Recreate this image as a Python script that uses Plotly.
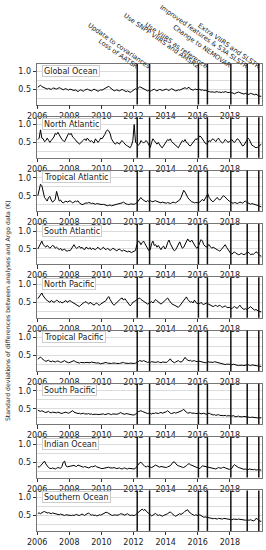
import plotly.graph_objects as go

# ---------------- data ----------------
years = list(range(2006, 2020))
regions = ["Global Ocean", "North Atlantic", "Tropical Atlantic", "South Atlantic",
           "North Pacific", "Tropical Pacific", "South Pacific", "Indian Ocean",
           "Southern Ocean"]

global_ocean = [
    0.55,0.58,0.61,0.57,0.55,0.53,0.51,0.50,0.52,0.50,0.49,0.52,
    0.53,0.51,0.50,0.52,0.54,0.52,0.50,0.48,0.50,0.51,0.49,0.47,
    0.50,0.49,0.47,0.46,0.48,0.45,0.43,0.46,0.48,0.46,0.44,0.47,
    0.49,0.50,0.48,0.46,0.45,0.47,0.50,0.48,0.45,0.44,0.46,0.48,
    0.47,0.49,0.51,0.53,0.55,0.58,0.54,0.50,0.47,0.45,0.46,0.48,
    0.46,0.45,0.47,0.49,0.47,0.45,0.43,0.45,0.44,0.41,0.43,0.46,
    0.48,0.51,0.49,0.54,0.56,0.55,0.53,0.50,0.48,0.47,0.45,0.46,
    0.44,0.46,0.48,0.50,0.47,0.45,0.47,0.49,0.48,0.46,0.47,0.49,
    0.50,0.48,0.46,0.49,0.51,0.49,0.47,0.45,0.46,0.48,0.47,0.49,
    0.50,0.52,0.54,0.51,0.53,0.55,0.50,0.48,0.47,0.49,0.50,0.48,
    0.50,0.49,0.47,0.48,0.46,0.47,0.45,0.44,0.43,0.42,0.43,0.42,
    0.41,0.42,0.43,0.41,0.42,0.40,0.42,0.41,0.43,0.42,0.40,0.41,
    0.39,0.40,0.38,0.37,0.39,0.40,0.42,0.40,0.38,0.37,0.36,0.38,
    0.36,0.35,0.36,0.38,0.37,0.35,0.34,0.36,0.33,0.31,0.30,0.30]

north_atlantic = [
    0.58,0.62,0.85,0.62,0.60,0.52,0.55,0.62,0.56,0.50,0.55,0.60,
    0.65,0.75,0.72,0.78,0.70,0.62,0.58,0.55,0.52,0.60,0.68,0.75,
    0.72,0.75,0.65,0.62,0.58,0.52,0.50,0.45,0.48,0.52,0.56,0.60,
    0.55,0.62,0.58,0.52,0.55,0.50,0.48,0.60,0.55,0.50,0.55,0.62,
    0.60,0.65,0.72,0.80,0.85,0.82,0.75,0.60,0.52,0.48,0.45,0.50,
    0.48,0.45,0.52,0.55,0.50,0.45,0.42,0.40,0.38,0.35,0.42,0.55,
    1.00,0.50,0.48,0.42,0.45,0.55,0.52,0.48,0.52,0.55,0.50,0.42,
    0.36,0.50,0.60,0.55,0.48,0.45,0.50,0.42,0.38,0.35,0.40,0.48,
    0.52,0.58,0.55,0.60,0.52,0.48,0.45,0.40,0.38,0.35,0.42,0.50,
    0.55,0.52,0.58,0.50,0.48,0.42,0.40,0.45,0.50,0.55,0.60,0.58,
    0.62,0.68,0.65,0.58,0.52,0.48,0.45,0.50,0.55,0.52,0.58,0.60,
    0.55,0.52,0.58,0.62,0.55,0.50,0.48,0.52,0.58,0.55,0.50,0.52,
    0.55,0.58,0.52,0.50,0.55,0.60,0.58,0.52,0.45,0.40,0.42,0.50,
    0.55,0.62,0.58,0.48,0.42,0.40,0.38,0.35,0.36,0.40,0.42,0.45]

tropical_atlantic = [
    0.50,0.70,0.82,0.78,0.60,0.45,0.40,0.35,0.45,0.48,0.38,0.32,
    0.35,0.40,0.62,0.45,0.35,0.38,0.32,0.30,0.33,0.35,0.32,0.34,
    0.36,0.33,0.30,0.32,0.35,0.33,0.36,0.30,0.27,0.25,0.26,0.28,
    0.30,0.29,0.31,0.30,0.28,0.29,0.27,0.26,0.28,0.27,0.25,0.24,
    0.25,0.26,0.24,0.23,0.22,0.23,0.24,0.22,0.23,0.24,0.25,0.24,
    0.25,0.26,0.28,0.30,0.32,0.28,0.27,0.26,0.25,0.27,0.26,0.25,
    0.26,0.28,0.30,0.35,0.42,0.45,0.40,0.36,0.35,0.33,0.36,0.34,
    0.36,0.34,0.33,0.35,0.36,0.34,0.33,0.31,0.30,0.32,0.31,0.30,
    0.29,0.31,0.30,0.28,0.30,0.32,0.31,0.30,0.33,0.35,0.38,0.45,
    0.55,0.65,0.60,0.50,0.45,0.40,0.35,0.33,0.32,0.30,0.31,0.30,
    0.30,0.32,0.38,0.40,0.35,0.42,0.48,0.55,0.45,0.38,0.35,0.33,
    0.38,0.42,0.45,0.40,0.38,0.42,0.48,0.50,0.45,0.40,0.38,0.35,
    0.32,0.30,0.29,0.31,0.30,0.28,0.30,0.32,0.31,0.29,0.33,0.35,
    0.32,0.30,0.28,0.26,0.28,0.27,0.25,0.26,0.24,0.22,0.20,0.19]

south_atlantic = [
    0.50,0.58,0.68,0.72,0.62,0.58,0.55,0.60,0.55,0.52,0.56,0.60,
    0.58,0.52,0.55,0.50,0.48,0.52,0.46,0.48,0.50,0.45,0.44,0.46,
    0.45,0.50,0.58,0.62,0.55,0.52,0.54,0.58,0.52,0.55,0.50,0.48,
    0.55,0.52,0.50,0.54,0.48,0.52,0.50,0.48,0.52,0.55,0.50,0.48,
    0.52,0.55,0.50,0.48,0.52,0.50,0.46,0.48,0.52,0.50,0.47,0.45,
    0.48,0.50,0.46,0.44,0.47,0.45,0.43,0.42,0.44,0.41,0.40,0.42,
    0.44,0.46,0.62,0.72,0.70,0.62,0.68,0.72,0.65,0.58,0.50,0.45,
    0.48,0.65,0.72,0.60,0.62,0.55,0.60,0.52,0.48,0.55,0.58,0.50,
    0.55,0.68,0.75,0.65,0.55,0.50,0.45,0.48,0.55,0.65,0.70,0.60,
    0.52,0.55,0.62,0.70,0.78,0.72,0.70,0.75,0.68,0.62,0.55,0.52,
    0.58,0.68,0.76,0.72,0.62,0.58,0.55,0.60,0.62,0.56,0.52,0.55,
    0.52,0.50,0.48,0.46,0.44,0.48,0.52,0.58,0.62,0.55,0.48,0.42,
    0.38,0.36,0.40,0.42,0.38,0.36,0.34,0.35,0.38,0.36,0.34,0.36,
    0.38,0.42,0.38,0.34,0.36,0.35,0.38,0.42,0.40,0.34,0.31,0.30]

north_pacific = [
    0.60,0.65,0.72,0.76,0.68,0.62,0.58,0.55,0.52,0.50,0.55,0.52,
    0.50,0.52,0.56,0.54,0.50,0.52,0.48,0.50,0.52,0.55,0.50,0.52,
    0.55,0.52,0.50,0.48,0.45,0.42,0.40,0.38,0.42,0.46,0.48,0.50,
    0.52,0.48,0.45,0.50,0.47,0.44,0.42,0.46,0.48,0.44,0.42,0.45,
    0.48,0.50,0.52,0.55,0.62,0.66,0.58,0.50,0.45,0.42,0.46,0.50,
    0.52,0.55,0.60,0.62,0.56,0.60,0.55,0.50,0.45,0.40,0.44,0.50,
    0.52,0.55,0.57,0.60,0.62,0.58,0.55,0.52,0.50,0.48,0.45,0.47,
    0.50,0.52,0.48,0.55,0.58,0.54,0.50,0.46,0.45,0.48,0.52,0.55,
    0.58,0.62,0.56,0.50,0.46,0.44,0.42,0.40,0.38,0.36,0.40,0.45,
    0.50,0.55,0.60,0.65,0.58,0.55,0.50,0.52,0.48,0.56,0.50,0.46,
    0.48,0.46,0.50,0.45,0.44,0.47,0.48,0.46,0.44,0.42,0.40,0.38,
    0.40,0.42,0.38,0.40,0.42,0.38,0.36,0.38,0.40,0.37,0.35,0.36,
    0.34,0.32,0.36,0.38,0.35,0.33,0.38,0.42,0.36,0.32,0.30,0.32,
    0.30,0.32,0.36,0.38,0.34,0.30,0.28,0.30,0.27,0.25,0.24,0.23]

tropical_pacific = [
    0.40,0.44,0.46,0.42,0.38,0.36,0.34,0.35,0.37,0.34,0.33,0.35,
    0.33,0.32,0.34,0.35,0.33,0.31,0.32,0.34,0.36,0.33,0.31,0.30,
    0.31,0.32,0.34,0.36,0.33,0.31,0.30,0.29,0.31,0.30,0.29,0.30,
    0.31,0.30,0.29,0.30,0.32,0.31,0.29,0.28,0.29,0.30,0.28,0.27,
    0.28,0.29,0.30,0.31,0.29,0.28,0.27,0.28,0.29,0.30,0.29,0.28,
    0.27,0.28,0.29,0.30,0.31,0.29,0.28,0.27,0.28,0.29,0.28,0.27,
    0.28,0.29,0.30,0.33,0.36,0.35,0.34,0.36,0.34,0.32,0.31,0.32,
    0.31,0.33,0.32,0.30,0.31,0.32,0.33,0.31,0.30,0.32,0.31,0.30,
    0.31,0.33,0.36,0.41,0.35,0.31,0.30,0.32,0.34,0.36,0.33,0.32,
    0.34,0.38,0.45,0.40,0.36,0.35,0.37,0.34,0.35,0.36,0.34,0.33,
    0.35,0.34,0.32,0.31,0.32,0.30,0.31,0.33,0.32,0.31,0.30,0.31,
    0.33,0.32,0.30,0.29,0.28,0.27,0.28,0.26,0.25,0.26,0.27,0.26,
    0.25,0.24,0.26,0.25,0.23,0.24,0.22,0.23,0.24,0.23,0.22,0.23,
    0.24,0.25,0.23,0.22,0.24,0.23,0.22,0.21,0.22,0.21,0.20,0.20]

south_pacific = [
    0.46,0.44,0.43,0.45,0.42,0.41,0.40,0.42,0.43,0.40,0.39,0.41,
    0.40,0.38,0.39,0.41,0.40,0.38,0.37,0.39,0.40,0.41,0.39,0.38,
    0.40,0.43,0.45,0.41,0.39,0.38,0.37,0.38,0.36,0.37,0.38,0.36,
    0.35,0.36,0.37,0.35,0.36,0.34,0.35,0.36,0.35,0.34,0.35,0.36,
    0.35,0.36,0.34,0.35,0.36,0.37,0.35,0.34,0.36,0.35,0.34,0.35,
    0.36,0.38,0.40,0.37,0.36,0.35,0.37,0.36,0.34,0.35,0.34,0.33,
    0.33,0.35,0.38,0.42,0.44,0.45,0.43,0.41,0.40,0.38,0.37,0.38,
    0.37,0.36,0.38,0.37,0.39,0.38,0.37,0.39,0.40,0.38,0.39,0.40,
    0.42,0.45,0.40,0.38,0.37,0.39,0.40,0.38,0.39,0.40,0.42,0.44,
    0.46,0.49,0.44,0.40,0.38,0.39,0.40,0.38,0.39,0.38,0.37,0.38,
    0.37,0.38,0.36,0.37,0.38,0.36,0.35,0.37,0.38,0.36,0.34,0.33,
    0.34,0.32,0.33,0.34,0.32,0.31,0.30,0.31,0.32,0.30,0.31,0.30,
    0.29,0.30,0.31,0.29,0.28,0.29,0.30,0.28,0.27,0.28,0.29,0.28,
    0.27,0.28,0.27,0.26,0.27,0.26,0.25,0.26,0.25,0.25,0.24,0.25]

indian_ocean = [
    0.38,0.36,0.40,0.45,0.50,0.53,0.45,0.38,0.35,0.33,0.32,0.34,
    0.32,0.31,0.33,0.35,0.34,0.33,0.38,0.50,0.53,0.40,0.37,0.38,
    0.37,0.38,0.40,0.41,0.39,0.38,0.42,0.40,0.38,0.37,0.36,0.38,
    0.37,0.35,0.34,0.36,0.38,0.37,0.39,0.40,0.37,0.35,0.34,0.33,
    0.32,0.33,0.34,0.33,0.35,0.36,0.34,0.33,0.34,0.35,0.33,0.32,
    0.33,0.34,0.32,0.31,0.33,0.34,0.32,0.31,0.33,0.32,0.31,0.32,
    0.31,0.33,0.38,0.45,0.48,0.50,0.47,0.42,0.38,0.37,0.39,0.38,
    0.36,0.35,0.37,0.40,0.42,0.40,0.38,0.36,0.38,0.37,0.35,0.34,
    0.35,0.37,0.38,0.40,0.45,0.50,0.51,0.46,0.42,0.40,0.38,0.37,
    0.36,0.35,0.37,0.40,0.44,0.46,0.43,0.41,0.40,0.38,0.37,0.35,
    0.34,0.32,0.36,0.40,0.39,0.38,0.36,0.35,0.34,0.33,0.32,0.31,
    0.30,0.31,0.33,0.35,0.34,0.33,0.35,0.36,0.34,0.32,0.31,0.30,
    0.31,0.33,0.40,0.43,0.40,0.37,0.35,0.34,0.32,0.31,0.30,0.31,
    0.30,0.29,0.31,0.30,0.28,0.29,0.30,0.28,0.29,0.28,0.29,0.28]

southern_ocean = [
    0.56,0.57,0.55,0.58,0.60,0.61,0.59,0.57,0.58,0.56,0.55,0.57,
    0.56,0.54,0.55,0.53,0.52,0.54,0.52,0.51,0.50,0.52,0.51,0.50,
    0.49,0.50,0.51,0.50,0.52,0.53,0.51,0.50,0.52,0.54,0.52,0.50,
    0.53,0.55,0.57,0.53,0.51,0.52,0.50,0.51,0.49,0.50,0.52,0.51,
    0.53,0.55,0.57,0.59,0.58,0.55,0.53,0.51,0.50,0.52,0.51,0.50,
    0.51,0.53,0.55,0.54,0.52,0.51,0.53,0.55,0.52,0.50,0.51,0.50,
    0.50,0.52,0.55,0.58,0.62,0.66,0.68,0.64,0.67,0.62,0.58,0.56,
    0.52,0.49,0.51,0.54,0.56,0.52,0.50,0.52,0.49,0.48,0.50,0.51,
    0.53,0.55,0.58,0.60,0.56,0.52,0.50,0.48,0.50,0.52,0.55,0.53,
    0.55,0.58,0.62,0.65,0.66,0.60,0.56,0.54,0.52,0.50,0.52,0.50,
    0.49,0.52,0.50,0.47,0.45,0.46,0.45,0.43,0.42,0.43,0.42,0.41,
    0.42,0.41,0.40,0.42,0.41,0.39,0.40,0.42,0.41,0.40,0.39,0.40,
    0.39,0.38,0.40,0.39,0.38,0.39,0.40,0.39,0.38,0.37,0.38,0.37,
    0.37,0.36,0.37,0.38,0.36,0.35,0.36,0.42,0.40,0.36,0.34,0.34]

series = [global_ocean, north_atlantic, tropical_atlantic, south_atlantic,
          north_pacific, tropical_pacific, south_pacific, indian_ocean,
          southern_ocean]

change_dates = [2012.23, 2013.0, 2016.04, 2016.6, 2018.06, 2019.08, 2019.8]
change_labels = ["Loss of AATSR", "Update to covariances", "Use SNPP VIIRS and AMSR2",
                 "Use VIIRS as reference", "Change to NEMOVAR",
                 "Improved features & S3A SLSTR", "Extra VIIRS and SLSTR"]

x_tick_vals = [2006, 2008, 2010, 2012, 2014, 2016, 2018]
y_tick_vals = [0.5, 1.0]
y_grid_minor = [0.25, 0.75]
y_title = "Standard deviations of differences between analyses and Argo data (K)"

# time axis (monthly mid-points)
times = [y + (m + 0.5) / 12.0 for y in years for m in range(12)]

# ---------------- layout ----------------
W, H = 266, 550
ML, MR, MT, MB = 37, 3.5, 64, 19
PH = H - MT - MB
panel_step = 53.3
panel_h = 40.5

FONT = "DejaVu Sans"
fig = go.Figure()
layout = dict(
    template="none",
    width=W, height=H,
    margin=dict(l=ML, r=MR, t=MT, b=MB, pad=0, autoexpand=False),
    paper_bgcolor="white", plot_bgcolor="white",
    showlegend=False,
    font=dict(family=FONT, size=8, color="#222"),
)
shapes = []
annotations = []

for k, (name, vals) in enumerate(zip(regions, series)):
    idx = "" if k == 0 else str(k + 1)
    top = 1 - (panel_step * k) / PH
    bot = top - panel_h / PH
    fig.add_trace(go.Scatter(x=times, y=vals, mode="lines",
                             line=dict(color="black", width=1),
                             xaxis="x" + idx, yaxis="y" + idx,
                             hoverinfo="skip"))
    layout["xaxis" + idx] = dict(
        domain=[0, 1], anchor="y" + idx, range=[2005.99, 2020.0],
        automargin=False,
        tickvals=x_tick_vals, ticktext=[str(v) for v in x_tick_vals],
        ticks="outside", ticklen=3.5, tickwidth=0.8,
        tickcolor="#333", showgrid=False, zeroline=False,
        showline=True, linecolor="#777", linewidth=0.8, mirror=True,
        tickfont=dict(size=8, color="#222"),
    )
    layout["yaxis" + idx] = dict(
        domain=[max(bot, 0), min(top, 1)], anchor="x" + idx, range=[0.07, 1.2],
        automargin=False,
        tickvals=y_tick_vals, ticktext=["0.5", "1.0"],
        ticks="outside", ticklen=3.5, tickwidth=0.8, tickcolor="#333",
        showgrid=True, gridcolor="#dcdcdc", gridwidth=0.8, zeroline=False,
        showline=True, linecolor="#777", linewidth=0.8, mirror=True,
        minor=dict(tickvals=y_grid_minor, showgrid=True, gridcolor="#dcdcdc",
                   gridwidth=0.8, ticks=""),
        tickfont=dict(size=8, color="#222"),
    )
    for d in change_dates:
        shapes.append(dict(type="line", xref="x" + idx, yref="y" + idx + " domain",
                           x0=d, x1=d, y0=0, y1=1,
                           line=dict(color="#111", width=1.5)))
    annotations.append(dict(
        text=name, xref="x" + idx + " domain", yref="y" + idx + " domain",
        x=0.02, y=0.985, xanchor="left", yanchor="top", showarrow=False,
        font=dict(family=FONT, size=8, color="#222"),
        bgcolor="white", bordercolor="#cccccc", borderwidth=1, borderpad=1,
        height=8,
    ))

for d, lab in zip(change_dates, change_labels):
    annotations.append(dict(
        text=lab, xref="x", yref="y domain", x=d, y=1.0,
        xanchor="right", yanchor="bottom", textangle=35, showarrow=False,
        xshift=4, yshift=-8, borderpad=0,
        font=dict(family=FONT, size=6.6, color="#222"),
    ))

annotations.append(dict(
    text=y_title, xref="paper", yref="paper",
    x=(8 - ML) / (W - ML - MR), y=1 - (311 - MT) / PH,
    xanchor="center", yanchor="middle", textangle=-90, showarrow=False,
    font=dict(family=FONT, size=6.2, color="#222"),
))

layout["shapes"] = shapes
layout["annotations"] = annotations
fig.update_layout(**layout)
fig.write_html("out.html",
               config={"displayModeBar": False},
               post_script="document.body.style.margin='0';document.body.style.padding='0';")
